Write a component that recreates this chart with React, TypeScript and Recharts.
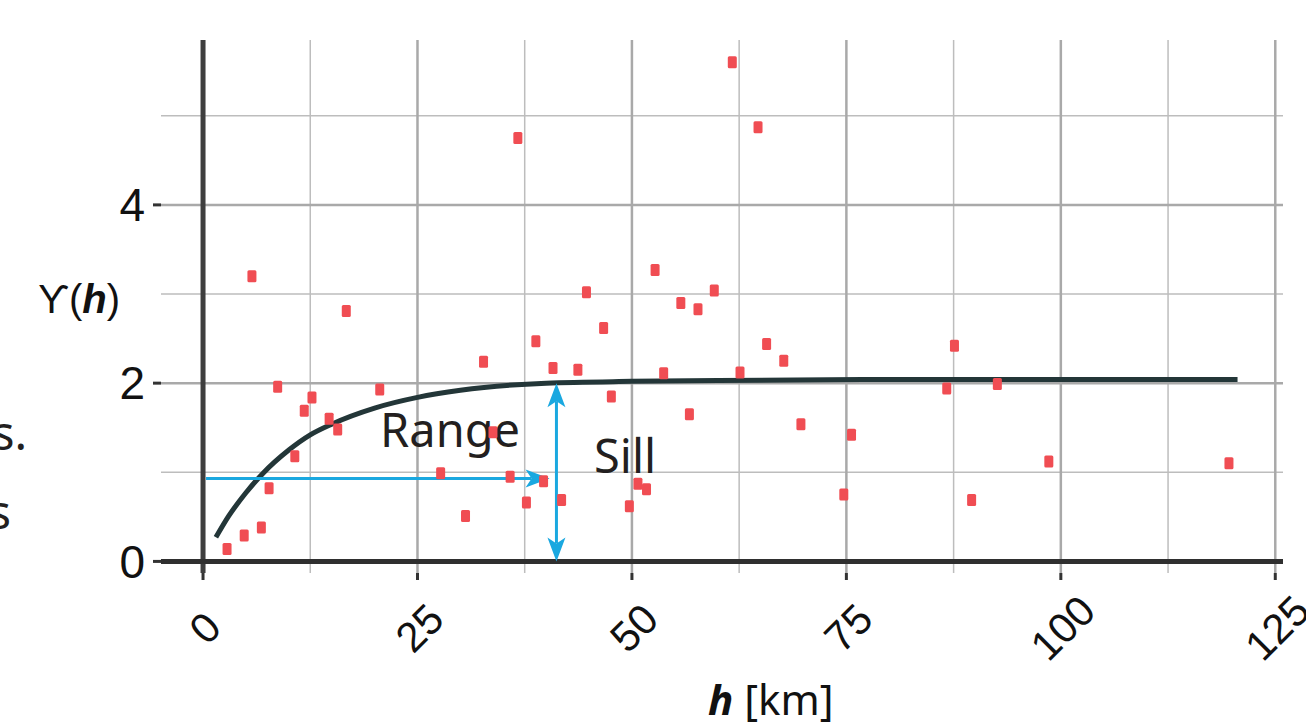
import React from "react";
import {
  ComposedChart,
  Scatter,
  Line,
  XAxis,
  YAxis,
  CartesianGrid,
  ReferenceLine,
  ReferenceDot,
} from "recharts";

// axis ticks and grid positions
const xTicks = [0, 25, 50, 75, 100, 125];
const xMinor = [12.5, 37.5, 62.5, 87.5, 112.5];
const yTicks = [0, 2, 4];
const yMinor = [1, 3, 5];

// empirical semivariogram points (lag in km, semivariance)
const lagKm = [
  2.8, 4.8, 6.8, 5.7, 7.7, 8.7, 10.7, 11.8, 12.7, 14.7, 15.7, 16.7, 20.6,
  27.7, 30.6, 32.7, 33.8, 35.8, 36.7, 37.7, 38.8, 39.7, 40.8, 41.8, 43.7,
  44.7, 46.7, 47.6, 49.7, 50.7, 51.7, 52.7, 53.7, 55.7, 56.7, 57.7, 59.6,
  61.7, 62.6, 64.7, 65.7, 67.7, 69.7, 74.7, 75.6, 86.7, 87.6, 89.6, 92.6,
  98.6, 119.6,
];
const gammaObs = [
  0.14, 0.29, 0.38, 3.2, 0.82, 1.96, 1.18, 1.69, 1.84, 1.6, 1.48, 2.81, 1.93,
  0.99, 0.51, 2.24, 1.45, 0.95, 4.75, 0.66, 2.47, 0.9, 2.17, 0.69, 2.15,
  3.02, 2.62, 1.85, 0.62, 0.87, 0.81, 3.27, 2.11, 2.9, 1.65, 2.83, 3.04,
  5.6, 2.12, 4.87, 2.44, 2.25, 1.54, 0.75, 1.42, 1.94, 2.42, 0.69, 1.99,
  1.12, 1.1,
];

// fitted model curve
const curveLag = [1.5, 3, 5, 7, 10, 12.5, 15, 20, 25, 30, 40, 50, 60, 80, 100, 120.6];
const curveGamma = [0.27, 0.51, 0.77, 0.99, 1.25, 1.42, 1.54, 1.72, 1.84, 1.92, 2.0, 2.02, 2.03, 2.04, 2.04, 2.04];

// annotation arrows
const rangeArrow = [0.35, 40.4, 0.93]; // from x, to x, at y
const sillArrow = [41.2, 0, 2.0]; // at x, from y, to y

const points = lagKm.map((x, i) => ({ x, y: gammaObs[i] }));
const curve = curveLag.map((x, i) => ({ x, y: curveGamma[i] }));

const CYAN = "#1aa8e0";
const INK = "#231f20";
const ANNOT_FONT = "'Noto Sans', 'Open Sans', sans-serif";
const TICK_FONT = "'Liberation Sans', Arial, sans-serif";

function head(tx: number, ty: number, dx: number, dy: number, key: string) {
  const len = 24;
  const half = 9;
  const notch = 6;
  const bx = tx - dx * len;
  const by = ty - dy * len;
  const nx = -dy;
  const ny = dx;
  const pts = [
    [tx, ty],
    [bx + nx * half, by + ny * half],
    [tx - dx * (len - notch), ty - dy * (len - notch)],
    [bx - nx * half, by - ny * half],
  ]
    .map((p) => p.join(","))
    .join(" ");
  return <polygon key={key} points={pts} fill={CYAN} />;
}

function arrow(both: boolean) {
  return (p: any) => {
    const { x1, y1, x2, y2 } = p;
    const L = Math.hypot(x2 - x1, y2 - y1) || 1;
    const dx = (x2 - x1) / L;
    const dy = (y2 - y1) / L;
    const back = 18;
    const sx = both ? x1 + dx * back : x1;
    const sy = both ? y1 + dy * back : y1;
    return (
      <g>
        <line x1={sx} y1={sy} x2={x2 - dx * back} y2={y2 - dy * back} stroke={CYAN} strokeWidth={3} />
        {head(x2, y2, dx, dy, "e")}
        {both ? head(x1, y1, -dx, -dy, "s") : null}
      </g>
    );
  };
}

function annot(text: string) {
  return (p: any) => (
    <text
      x={p.cx}
      y={p.cy}
      textAnchor="middle"
      dominantBaseline="central"
      fontFamily={ANNOT_FONT}
      fontSize={47}
      fill={INK}
    >
      {text}
    </text>
  );
}

const XTick = (p: any) => {
  const cx = p.x + 2;
  const cy = p.y + 48;
  return (
    <text
      x={cx}
      y={cy}
      textAnchor="middle"
      dominantBaseline="central"
      transform={`rotate(-45, ${cx}, ${cy})`}
      fontFamily={TICK_FONT}
      fontSize={42}
      fill="#111"
    >
      {p.payload.value}
    </text>
  );
};

const YLabel = () => (
  <g>
    <text x={38} y={313} fontFamily={TICK_FONT} fontSize={40} fill="#111">
      ϒ(<tspan fontWeight="bold" fontStyle="italic">h</tspan>)
    </text>
    <text x={27} y={450} textAnchor="end" fontFamily={ANNOT_FONT} fontSize={47} fill={INK}>
      s.
    </text>
    <text x={11} y={529} textAnchor="end" fontFamily={ANNOT_FONT} fontSize={47} fill={INK}>
      s
    </text>
  </g>
);

const XLabel = () => (
  <text x={708} y={715} fontFamily={ANNOT_FONT} fontSize={42} fill="#111">
    <tspan fontWeight="bold" fontStyle="italic">h</tspan> [km]
  </text>
);

export default function App() {
  return (
    <div style={{ position: "absolute", left: 0, top: 0, background: "#fff" }}>
      <ComposedChart
        width={1306}
        height={722}
        margin={{ top: 40, right: 23, bottom: 0, left: 0 }}
      >
        <CartesianGrid
          verticalValues={xMinor}
          horizontalValues={yMinor}
          stroke="#bdbdbd"
          strokeWidth={1.5}
        />
        <CartesianGrid
          verticalValues={xTicks}
          horizontalValues={yTicks}
          stroke="#a9a9a9"
          strokeWidth={2.5}
        />
        <XAxis
          type="number"
          dataKey="x"
          domain={[-4.9, 125.9]}
          ticks={xTicks}
          height={149}
          axisLine={false}
          tickLine={{ stroke: "#333", strokeWidth: 3 }}
          tickSize={7}
          tickMargin={0}
          tick={<XTick />}
          label={<XLabel />}
          allowDataOverflow
        />
        <YAxis
          type="number"
          dataKey="y"
          domain={[-0.13, 5.85]}
          ticks={yTicks}
          width={161}
          axisLine={false}
          tickLine={{ stroke: "#333", strokeWidth: 3 }}
          tickSize={8}
          tickMargin={8}
          tick={{ fontFamily: TICK_FONT, fontSize: 46, fill: "#111" }}
          label={<YLabel />}
          allowDataOverflow
        />
        <ReferenceLine x={0} stroke="#3e3e3e" strokeWidth={5} />
        <ReferenceLine y={0} stroke="#2f2f2f" strokeWidth={5} />
        <ReferenceDot x={28.8} y={1.49} r={0} shape={annot("Range")} />
        <ReferenceDot x={49.2} y={1.19} r={0} shape={annot("Sill")} />
        <Scatter
          data={points}
          isAnimationActive={false}
          shape={(p: any) => (
            <rect x={p.cx - 4.5} y={p.cy - 6} width={9} height={12} rx={1.5} fill="#f04d53" />
          )}
        />
        <Line
          data={curve}
          dataKey="y"
          type="monotone"
          stroke="#233638"
          strokeWidth={5}
          dot={false}
          activeDot={false}
          isAnimationActive={false}
        />
        <ReferenceLine
          segment={[
            { x: rangeArrow[0], y: rangeArrow[2] },
            { x: rangeArrow[1], y: rangeArrow[2] },
          ]}
          shape={arrow(false)}
        />
        <ReferenceLine
          segment={[
            { x: sillArrow[0], y: sillArrow[1] },
            { x: sillArrow[0], y: sillArrow[2] },
          ]}
          shape={arrow(true)}
        />
      </ComposedChart>
    </div>
  );
}
